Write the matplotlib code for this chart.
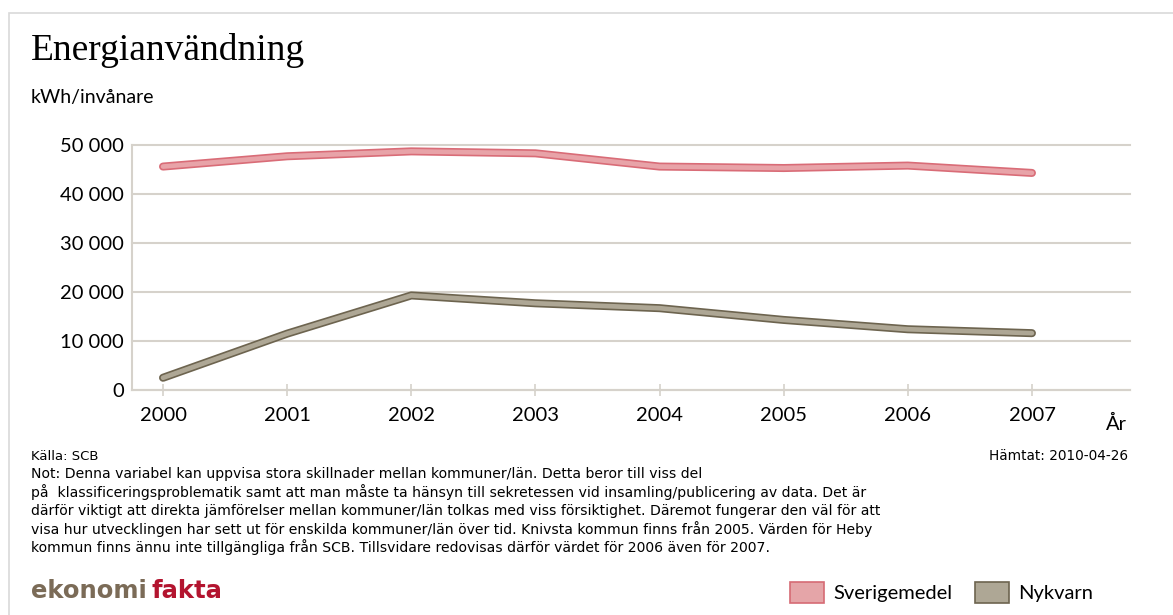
import matplotlib.pyplot as plt
import matplotlib.patheffects as pe
from matplotlib.patches import Rectangle
from matplotlib.ticker import FuncFormatter

years = [2000, 2001, 2002, 2003, 2004, 2005, 2006, 2007]
sverige = [45600, 47700, 48700, 48300, 45600, 45300, 45800, 44300]
nykvarn = [2500, 11500, 19300, 17700, 16700, 14300, 12400, 11600]

W, H = 1173, 615
fig = plt.figure(figsize=(W / 100, H / 100), dpi=100)

def fx(x):
    return x / W

def fy(y):
    return 1 - y / H

# outer light border
fig.add_artist(Rectangle((fx(9), fy(1000)), 2, fy(13) - fy(1000), transform=fig.transFigure,
                         fill=False, edgecolor="#d9d9d9", linewidth=1.2))

ax = fig.add_axes([fx(132), fy(390), fx(1130) - fx(132), fy(145) - fy(390)])
grid_col = "#d6d2cb"

ax.plot(years, sverige, color="#e8a3a8", linewidth=3.4, solid_capstyle="round",
        path_effects=[pe.Stroke(linewidth=5.8, foreground="#d96c77"), pe.Normal()], zorder=3)
ax.plot(years, nykvarn, color="#aea795", linewidth=3.4, solid_capstyle="round",
        path_effects=[pe.Stroke(linewidth=5.8, foreground="#6d644f"), pe.Normal()], zorder=3)

ax.set_xlim(1999.75, 2007.79)
ax.set_ylim(0, 50000)
ax.set_yticks(range(0, 50001, 10000))
ax.yaxis.set_major_formatter(FuncFormatter(lambda v, p: f"{int(v):,}".replace(",", " ")))
ax.set_xticks(years)
ax.grid(axis="y", color=grid_col, linewidth=1.5, clip_on=False)
ax.set_axisbelow(True)
for s in ["top", "right"]:
    ax.spines[s].set_visible(False)
ax.spines["left"].set_color(grid_col)
ax.spines["bottom"].set_color(grid_col)
ax.spines["left"].set_linewidth(1.5)
ax.spines["bottom"].set_linewidth(1.5)
ax.tick_params(axis="y", length=0, pad=6, labelsize=14.5)
ax.tick_params(axis="x", direction="inout", length=9, width=1.2, color=grid_col, pad=8, labelsize=14.5)
for lab in ax.get_xticklabels() + ax.get_yticklabels():
    lab.set_fontfamily("Lato")

fig.text(fx(31), fy(51), "Energianvändning", family="Liberation Serif", fontsize=27, va="center")
fig.text(fx(31), fy(97), "kWh/invånare", family="Lato", fontsize=14, va="center")
fig.text(fx(1106), fy(424), "År", family="Lato", fontsize=14.5, va="center")

fig.text(fx(31), fy(460), "Källa: SCB", family="DejaVu Sans", fontsize=9.5, va="baseline")
fig.text(fx(1128), fy(460), "Hämtat: 2010-04-26", family="DejaVu Sans", fontsize=9.8, va="baseline", ha="right")
note = ["Not: Denna variabel kan uppvisa stora skillnader mellan kommuner/län. Detta beror till viss del",
        "på  klassificeringsproblematik samt att man måste ta hänsyn till sekretessen vid insamling/publicering av data. Det är",
        "därför viktigt att direkta jämförelser mellan kommuner/län tolkas med viss försiktighet. Däremot fungerar den väl för att",
        "visa hur utvecklingen har sett ut för enskilda kommuner/län över tid. Knivsta kommun finns från 2005. Värden för Heby",
        "kommun finns ännu inte tillgängliga från SCB. Tillsvidare redovisas därför värdet för 2006 även för 2007."]
for i, line in enumerate(note):
    fig.text(fx(31), fy(478 + i * 18.6), line, family="DejaVu Sans", fontsize=10.1, va="baseline")

# logo
fig.text(fx(31), fy(591), "ekonomi", family="DejaVu Sans", fontweight="bold", fontsize=17.5,
         color="#7b6b57", va="center")
fig.text(fx(151), fy(591), "fakta", family="DejaVu Sans", fontweight="bold", fontsize=17.5,
         color="#b3142f", va="center")

# legend
fig.add_artist(Rectangle((fx(790), fy(603)), fx(34), fy(582) - fy(603), transform=fig.transFigure,
                         facecolor="#e5a5a8", edgecolor="#d66b74", linewidth=1.2))
fig.text(fx(833), fy(594), "Sverigemedel", family="Lato", fontsize=14.5, va="center")
fig.add_artist(Rectangle((fx(975), fy(603)), fx(34), fy(582) - fy(603), transform=fig.transFigure,
                         facecolor="#aea795", edgecolor="#6d644f", linewidth=1.2))
fig.text(fx(1018), fy(594), "Nykvarn", family="Lato", fontsize=14.5, va="center")

fig.savefig("out.png", dpi=100)
